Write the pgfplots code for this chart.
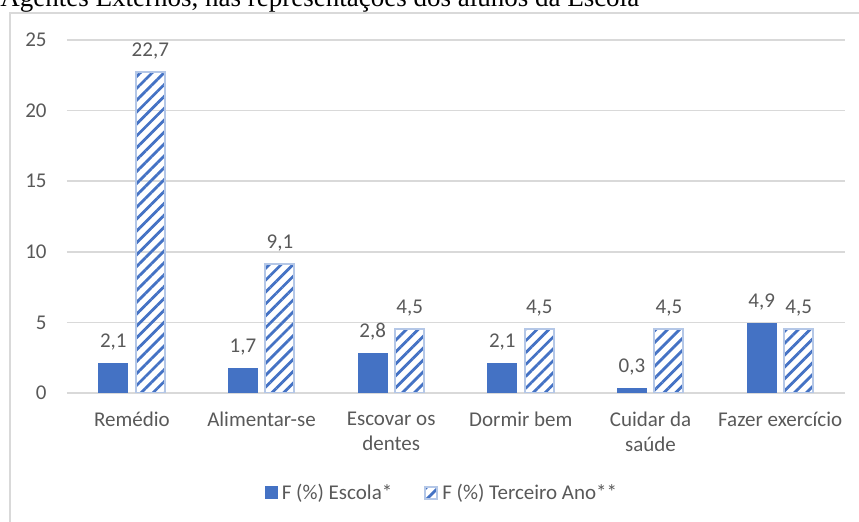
\documentclass[border=0pt]{standalone}
\usepackage{fontspec}
\setmainfont{Carlito}
\newfontfamily\titlefont{Liberation Serif}
\usepackage{pgfplots}
\pgfplotsset{compat=1.18}
\usetikzlibrary{patterns.meta}

\definecolor{barblue}{HTML}{4472C4}
\definecolor{edgeblue}{HTML}{B4C7E7}
\definecolor{gridgray}{HTML}{D9D9D9}
\definecolor{labelgray}{HTML}{595959}

\begin{document}
\begin{tikzpicture}
\useasboundingbox (0,0) rectangle (429.5pt,261pt);

% caption line above the chart
\node[anchor=base west, inner sep=0pt, font=\titlefont\fontsize{13.5}{16}\selectfont]
  at (0pt,257.5pt) {Agentes Externos, nas representações dos alunos da Escola};

% chart area border
\draw[gridgray, line width=0.75pt] (5pt,-2pt) -- (5pt,254.5pt) -- (440pt,254.5pt);

\begin{axis}[
  at={(33.5pt,64.5pt)}, anchor=south west,
  scale only axis, width=389pt, height=176.5pt,
  ybar=4pt, bar width=14.5pt,
  xmin=-0.5, xmax=5.5, ymin=0, ymax=25,
  xtick=data,
  xticklabels={Remédio, Alimentar-se, {Escovar os\\dentes}, Dormir bem, {Cuidar da\\saúde}, Fazer exercício},
  ytick={0,5,10,15,20,25},
  axis line style={draw=none},
  ymajorgrids, grid style={gridgray, line width=0.75pt},
  major tick length=0pt,
  tick label style={font=\fontsize{10.5}{12.5}\selectfont, text=labelgray},
  xticklabel style={align=center, anchor=north, yshift=-6pt},
  yticklabel style={anchor=east, inner sep=0pt, xshift=-10pt},
  /pgf/number format/assume math mode=true,
  nodes near coords,
  nodes near coords style={font=\fontsize{10.5}{12.5}\selectfont, text=labelgray,
    anchor=base, inner sep=0pt, yshift=8pt,
    /pgf/number format/.cd, fixed, fixed zerofill, precision=1, use comma},
  legend columns=2,
  legend style={draw=none, fill=none, at={(0.4833,-0.2833)}, anchor=center,
    font=\fontsize{10.5}{12.5}\selectfont, text=labelgray,
    /tikz/every even column/.append style={column sep=14pt}},
  legend image code/.code={\draw[#1] (0pt,-3pt) rectangle (6pt,3pt);},
]
\addplot[fill=barblue, draw=barblue, line width=0.5pt]
  coordinates {(0,2.1) (1,1.7) (2,2.8) (3,2.1) (4,0.3) (5,4.9)};
\addplot[draw=edgeblue, line width=1pt,
  pattern={Lines[angle=45, distance=4.2pt, line width=1.4pt]}, pattern color=barblue]
  coordinates {(0,22.7) (1,9.1) (2,4.5) (3,4.5) (4,4.5) (5,4.5)};
\legend{F (\%) Escola*, F (\%) Terceiro Ano**}
\end{axis}
\end{tikzpicture}
\end{document}
